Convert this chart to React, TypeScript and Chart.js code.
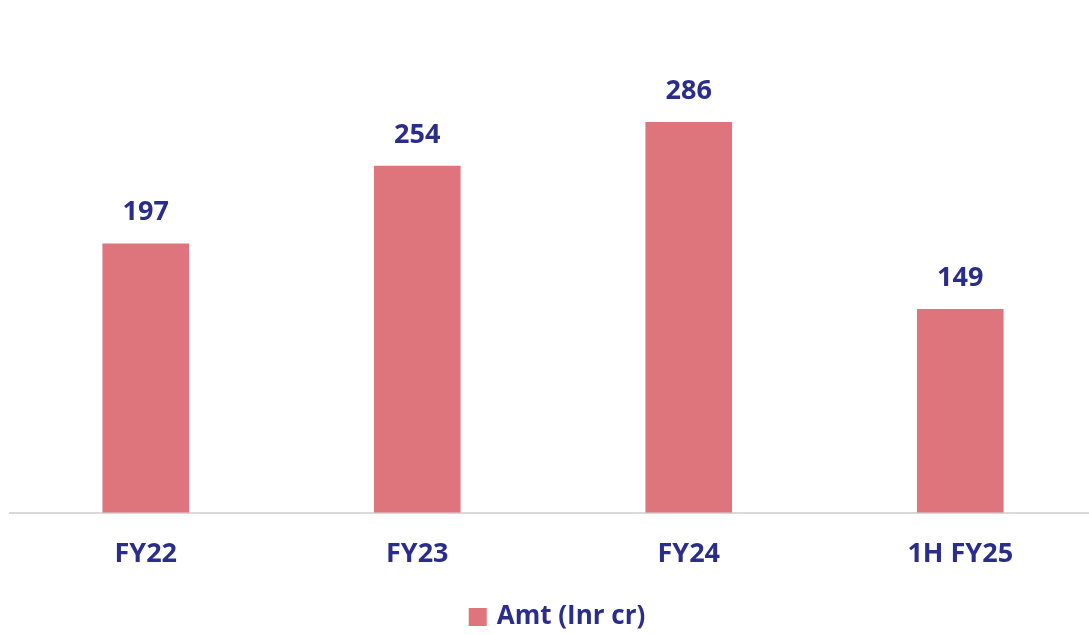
import React, { useEffect, useRef } from "react";
import { Chart, registerables } from "chart.js";

Chart.register(...registerables);

const categories = ["FY22", "FY23", "FY24", "1H FY25"];
const amtValues = [197, 254, 286, 149];
const seriesLabel = "Amt (Inr cr)";

const TEXT_COLOR = "#2B2D8A";
const BAR_COLOR = "#DE757C";
const FONT_FAMILY = "'Open Sans', 'Noto Sans', sans-serif";

const valueLabels = {
  id: "valueLabels",
  afterDatasetsDraw(chart: any) {
    const ctx = chart.ctx;
    ctx.save();
    ctx.font = `bold 27px ${FONT_FAMILY}`;
    ctx.fillStyle = TEXT_COLOR;
    ctx.textAlign = "center";
    ctx.textBaseline = "middle";
    chart.data.datasets.forEach((ds: any, i: number) => {
      const meta = chart.getDatasetMeta(i);
      meta.data.forEach((bar: any, j: number) => {
        ctx.fillText(String(ds.data[j]), bar.x, bar.y - 31);
      });
    });
    ctx.restore();
  },
};

const bottomLegend = {
  id: "bottomLegend",
  afterDraw(chart: any) {
    const ctx = chart.ctx;
    const ds = chart.data.datasets[0];
    ctx.save();
    ctx.font = `bold 26px ${FONT_FAMILY}`;
    const tw = ctx.measureText(ds.label).width;
    const box = 18;
    const gap = 10;
    const total = box + gap + tw;
    const cx = (chart.chartArea.left + chart.chartArea.right) / 2 + 4;
    const x0 = cx - total / 2;
    const cy = 617;
    ctx.fillStyle = ds.backgroundColor;
    ctx.fillRect(x0, cy - box / 2, box, box);
    ctx.fillStyle = TEXT_COLOR;
    ctx.textAlign = "left";
    ctx.textBaseline = "middle";
    ctx.fillText(ds.label, x0 + box + gap, cy);
    ctx.restore();
  },
};

export default function App() {
  const ref = useRef<HTMLCanvasElement | null>(null);
  useEffect(() => {
    document.body.style.overflow = "hidden";
    const chart = new Chart(ref.current as HTMLCanvasElement, {
      type: "bar",
      data: {
        labels: categories,
        datasets: [
          {
            label: seriesLabel,
            data: amtValues,
            backgroundColor: BAR_COLOR,
            borderWidth: 0,
            barThickness: 86,
          },
        ],
      },
      options: {
        animation: false,
        responsive: true,
        maintainAspectRatio: false,
        layout: { padding: { left: 10, right: 0, top: 35, bottom: 46 } },
        plugins: {
          legend: { display: false },
          tooltip: { enabled: false },
        },
        scales: {
          y: { display: false, min: 0, max: 350 },
          x: {
            grid: { display: false },
            border: { color: "#D9D9D9", width: 2 },
            ticks: {
              color: TEXT_COLOR,
              font: { family: FONT_FAMILY, size: 27, weight: "bold" },
              padding: 18,
            },
          },
        },
      },
      plugins: [valueLabels, bottomLegend],
    });
    return () => chart.destroy();
  }, []);
  return (
    <div style={{ position: "fixed", left: 0, top: 0, width: 1096, height: 635, background: "#fff" }}>
      <canvas ref={ref} />
    </div>
  );
}
